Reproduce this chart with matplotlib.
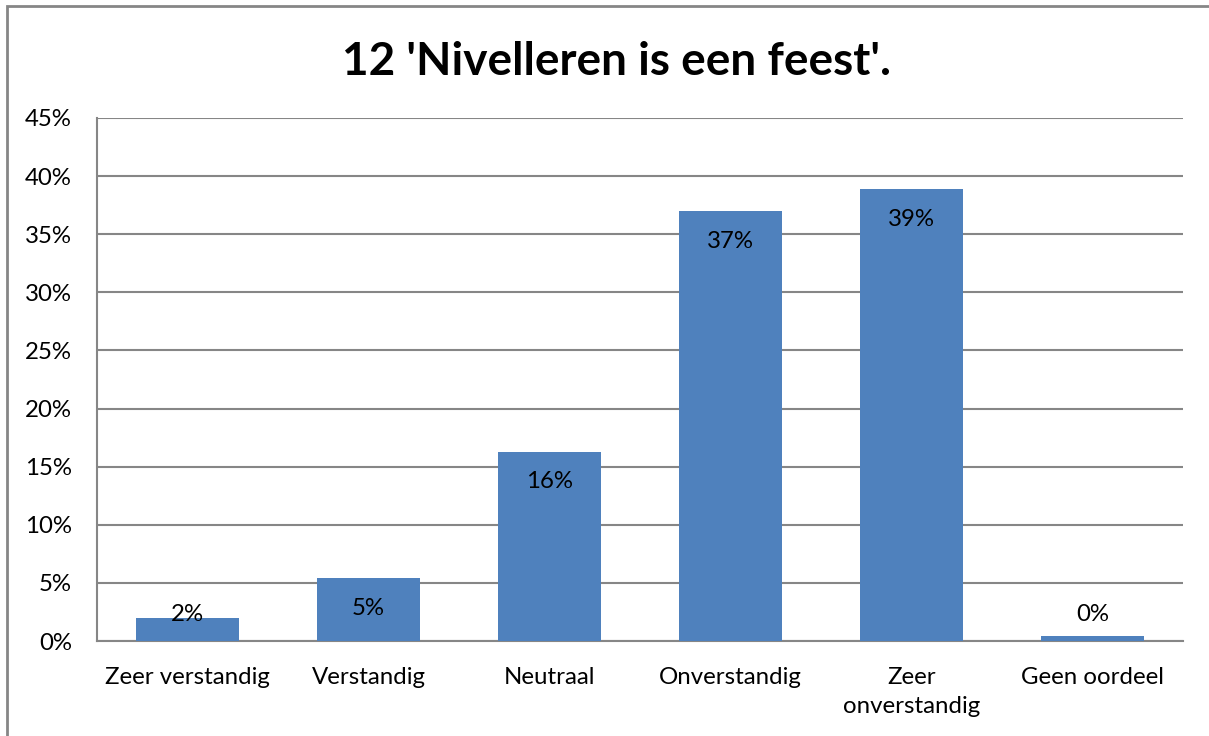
import numpy as np
import matplotlib.pyplot as plt
from matplotlib.patches import Rectangle

categories = ['Zeer verstandig', 'Verstandig', 'Neutraal', 'Onverstandig',
              'Zeer\nonverstandig', 'Geen oordeel']
values = [2.0, 5.4, 16.3, 37.0, 38.9, 0.4]
labels = ['2%', '5%', '16%', '37%', '39%', '0%']
yticks = np.arange(0, 50, 5)

plt.rcParams['font.family'] = ['Lato', 'DejaVu Sans']

W, H = 1209, 736
fig = plt.figure(figsize=(W / 100, H / 100), dpi=100)

# chart frame (cut off at right/bottom as in the page)
fig.patches.append(Rectangle((7 / W, -0.1), 1.2, 1 - 6 / H + 0.1,
                             transform=fig.transFigure, fill=False,
                             edgecolor='#868686', linewidth=2))

ax = fig.add_axes([97 / W, 1 - 641 / H, (1183 - 97) / W, (641 - 118) / H])
x = np.arange(len(categories))
ax.bar(x, values, width=0.565, color='#4f81bd', zorder=3)

fs = 17.3
for xi, v, lab in zip(x, values, labels):
    ax.text(xi, max(v - 2.6, 2.3), lab, ha='center', va='center',
            fontsize=fs, color='black', zorder=4)

ax.set_xlim(-0.5, len(categories) - 0.5)
ax.set_ylim(0, 45)
ax.set_yticks(yticks)
ax.set_yticklabels([f'{t}%' for t in yticks], fontsize=fs)
ax.set_xticks(x)
ax.set_xticklabels(categories, fontsize=fs, linespacing=1.45, va='top')
ax.tick_params(axis='x', length=0, pad=19)
ax.tick_params(axis='y', length=0, pad=18)
ax.grid(axis='y', color='#868686', linewidth=1.5, zorder=0)
for s in ['top', 'right']:
    ax.spines[s].set_visible(False)
for s in ['left', 'bottom']:
    ax.spines[s].set_color('#868686')
    ax.spines[s].set_linewidth(1.5)

fig.text(617 / W, 1 - 62 / H, "12 'Nivelleren is een feest'.",
         ha='center', va='center', fontsize=33, fontweight='bold')

fig.savefig('out.png', dpi=100)
